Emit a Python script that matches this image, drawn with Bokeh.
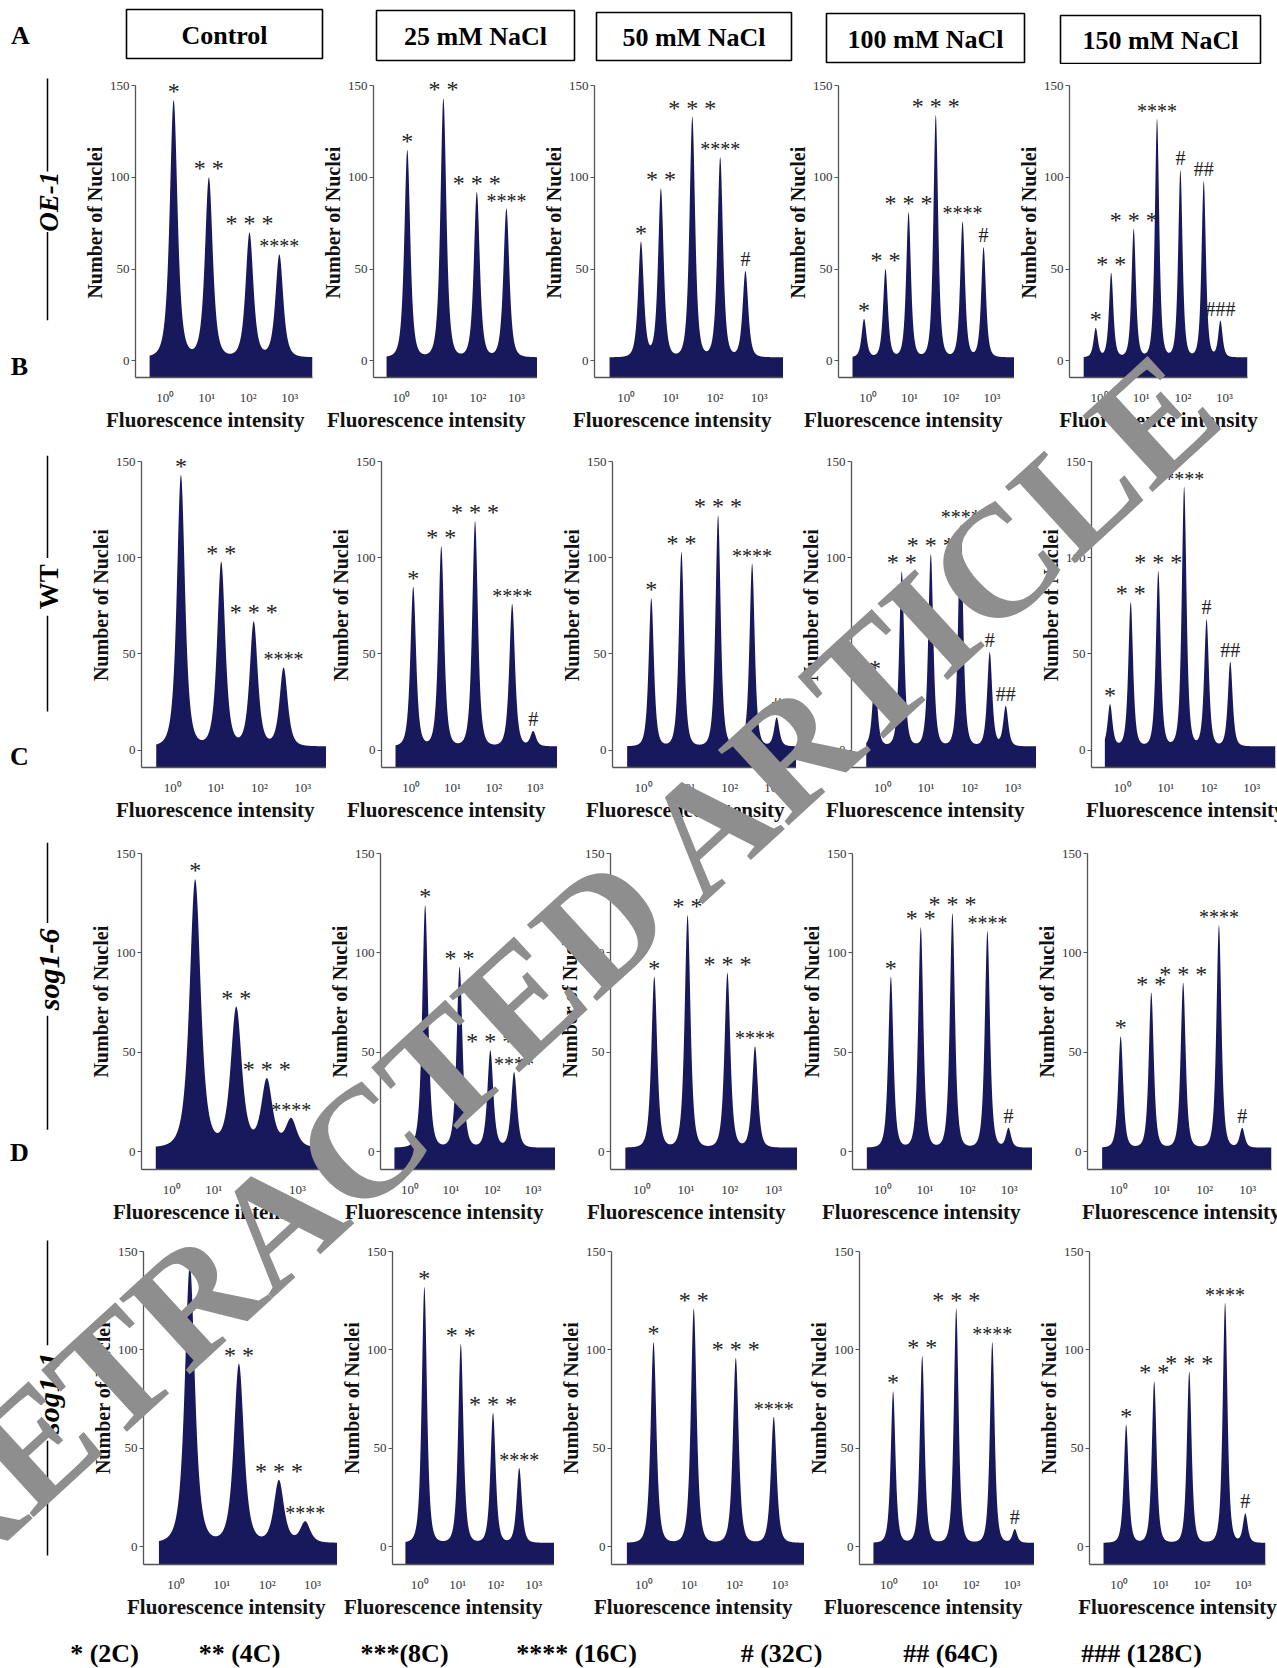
import math
import numpy as np
from bokeh.plotting import figure
from bokeh.layouts import column, row
from bokeh.models import (Range1d, FixedTicker, LabelSet, ColumnDataSource, Title, Div,
                          InlineStyleSheet)
from bokeh.core.properties import value
from bokeh.embed import file_html
from bokeh.resources import INLINE

# ---------------- data ----------------
CONDITIONS = ["Control", "25 mM NaCl", "50 mM NaCl", "100 mM NaCl", "150 mM NaCl"]
GENOTYPES = ["OE-1", "WT", "sog1-6", "sog1-1"]
PANEL_LETTERS = ["A", "B", "C", "D"]
X_TICKS = [0, 1, 2, 3]
X_TICK_LABELS = ["10\u2070", "10\u00b9", "10\u00b2", "10\u00b3"]
Y_TICKS = [0, 50, 100, 150]

# peak positions (log10 fluorescence), peak heights (number of nuclei), peak tags
OE1_PEAK_X = [[0.20, 1.05, 2.03, 2.75],
              [0.16, 1.10, 1.97, 2.74],
              [0.33, 0.78, 1.49, 2.12, 2.69],
              [-0.10, 0.42, 0.98, 1.64, 2.29, 2.80],
              [-0.09, 0.28, 0.82, 1.38, 1.94, 2.50, 2.90]]
OE1_PEAK_N = [[142, 100, 70, 58],
              [115, 143, 92, 83],
              [65, 94, 133, 111, 49],
              [23, 50, 81, 134, 76, 62],
              [18, 48, 72, 132, 104, 98, 22]]
OE1_PEAK_TAG = [["*", "**", "***", "****"],
                ["*", "**", "***", "****"],
                ["*", "**", "***", "****", "#"],
                ["*", "**", "***", "***", "****", "#"],
                ["*", "**", "***", "****", "#", "##", "###"]]

WT_PEAK_X = [[0.19, 1.12, 1.87, 2.56],
             [0.05, 0.73, 1.55, 2.45, 2.96],
             [0.18, 0.88, 1.73, 2.52, 3.09],
             [-0.18, 0.44, 1.11, 1.80, 2.47, 2.84],
             [-0.29, 0.19, 0.83, 1.43, 1.95, 2.50]]
WT_PEAK_N = [[143, 98, 67, 43],
             [85, 106, 119, 76, 10],
             [79, 103, 122, 97, 17],
             [38, 93, 102, 117, 51, 23],
             [24, 77, 93, 137, 68, 46]]
WT_PEAK_TAG = [["*", "**", "***", "****"],
               ["*", "**", "***", "****", "#"],
               ["*", "**", "***", "****", "#"],
               ["*", "**", "***", "****", "#", "##"],
               ["*", "**", "***", "****", "#", "##"]]

SOG16_PEAK_X = [[0.56, 1.54, 2.27, 2.85],
                [0.37, 1.21, 1.96, 2.54],
                [0.28, 1.04, 1.95, 2.58],
                [0.19, 0.90, 1.65, 2.48, 2.98],
                [0.05, 0.76, 1.50, 2.33, 2.87]]
SOG16_PEAK_N = [[137, 73, 37, 17],
                [124, 93, 51, 40],
                [88, 119, 90, 53],
                [88, 113, 120, 111, 12],
                [58, 80, 85, 114, 12]]
SOG16_PEAK_TAG = [["*", "**", "***", "****"],
                  ["*", "**", "***", "****"],
                  ["*", "**", "***", "****"],
                  ["*", "**", "***", "****", "#"],
                  ["*", "**", "***", "****", "#"]]

SOG11_PEAK_X = [[0.30, 1.38, 2.26, 2.84],
                [0.12, 1.08, 1.93, 2.62],
                [0.21, 1.10, 2.03, 2.87],
                [0.10, 0.81, 1.64, 2.52, 3.07],
                [0.17, 0.85, 1.70, 2.57, 3.06]]
SOG11_PEAK_N = [[143, 93, 34, 13],
                [132, 103, 68, 40],
                [104, 121, 96, 66],
                [79, 97, 121, 104, 9],
                [62, 84, 89, 124, 17]]
SOG11_PEAK_TAG = [["*", "**", "***", "****"],
                  ["*", "**", "***", "****"],
                  ["*", "**", "***", "****"],
                  ["*", "**", "***", "****", "#"],
                  ["*", "**", "***", "****", "#"]]

LEGEND_LABELS = ["* (2C)", "** (4C)", "***(8C)", "**** (16C)", "# (32C)", "## (64C)", "### (128C)"]

PEAK_X = [OE1_PEAK_X, WT_PEAK_X, SOG16_PEAK_X, SOG11_PEAK_X]
PEAK_N = [OE1_PEAK_N, WT_PEAK_N, SOG16_PEAK_N, SOG11_PEAK_N]
PEAK_TAG = [OE1_PEAK_TAG, WT_PEAK_TAG, SOG16_PEAK_TAG, SOG11_PEAK_TAG]

# ---------------- styles / layout ----------------
SERIF = "Liberation Serif"
NAVY = "#18185c"
AXIS_COL = "#555555"
X0, X1 = -0.72, 3.55
Y0, Y_AX, Y1 = -9, 150, 160
FLOOR = 2.0
PEAK_WIDTH = [[0.17, 0.14, 0.115, 0.105, 0.095],
              [0.17, 0.125, 0.11, 0.105, 0.10],
              [0.24, 0.13, 0.12, 0.11, 0.105],
              [0.20, 0.125, 0.115, 0.105, 0.105]]
XLAB_W = 206  # approx pixel width of the x axis label
XLAB_MARGIN = 12

PAGE_L, PAGE_R = 0, 1277
HEADER_TB = (0, 64)
ROW_TB = [(64, 432), (432, 826), (826, 1224), (1224, 1628)]
LEGEND_TB = (1628, 1668)
FRAME_TB = [(85, 377), (460, 766), (852, 1168), (1250, 1563)]   # y of 150 tick, x-axis line
AXIS_X = [[135, 373, 594, 832, 1064],
          [141, 377, 600, 834, 1071],
          [141, 380, 602, 838, 1069],
          [143, 384, 606, 844, 1073]]
RIGHT_X = [[312, 537, 785, 1009, 1242],
           [326, 557, 791, 1024, 1256],
           [320, 559, 797, 1026, 1256],
           [341, 549, 805, 1026, 1250]]
BL_MIN, BL_MAX = 50, 57

HEAD_L = [126, 376, 596, 826, 1060]
HEAD_R = [322, 574, 791, 1024, 1260]
HEAD_T = [9, 10, 12, 13, 15]
HEAD_B = [58, 60, 60, 62, 63]
LETTER_XY = [(20, 35), (19, 420), (19, 813), (19, 1204)]
ROWLAB_X = 47
ROWLAB_Y = [224, 607, 987, 1420]
ROWLAB_SEGS = [[(77, 188), (260, 365)], [(448, 572), (642, 758)],
               [(837, 932), (1042, 1177)], [(1235, 1362), (1478, 1617)]]
ROWLAB_STYLE = ["bold italic", "bold", "bold italic", "bold italic"]
ROWLAB_SIZE = ["27px", "27px", "30px", "30px"]
LEGEND_X = [104, 239, 404, 576, 781, 950, 1141]
LEGEND_Y = 1652

WM_TEXT = "RETRACTED ARTICLE"
WM_X, WM_Y, WM_ANG, WM_SIZE = 562, 960, 42.5, 158   # centre of the watermark on the page
WM_FIX = (46, 162)                                  # measured offset of the overlay box
WM_BOX_W, WM_BOX_H = 1760, 180


def page_fig(x0, x1, y0, y1):
    p = figure(width=x1 - x0, height=y1 - y0, x_range=Range1d(x0, x1), y_range=Range1d(y1, y0),
               x_axis_type=None, y_axis_type=None, output_backend="svg", toolbar_location=None,
               tools="", min_border_left=0, min_border_right=0, min_border_top=0, min_border_bottom=0,
               outline_line_color=None, background_fill_color="white", border_fill_color="white")
    p.grid.visible = False
    return p


def fmt_tag(t):
    if t.startswith("*") and len(t) < 4:
        return "\u00a0".join(t)
    return t


def profile(pos, hgt, w):
    pos = np.asarray(pos, float)
    hgt = np.asarray(hgt, float)
    g = lambda d: 1.0 / (1.0 + (d / w) ** 2) ** 2
    G = g(pos[:, None] - pos[None, :])
    amp = np.clip(np.linalg.solve(G, hgt - FLOOR), 0, None)
    start = min(-0.38, pos[0] - 0.12)
    x = np.linspace(start, X1, 1200)
    y = FLOOR + (amp[None, :] * g(x[:, None] - pos[None, :])).sum(axis=1)
    return x, y


def make_panel(r, c, fw, fh, bl, br, bt, bb, fig_left, fig_w):
    pos, hgt, tags = PEAK_X[r][c], PEAK_N[r][c], PEAK_TAG[r][c]
    ppu = fh / (Y_AX - Y0)
    extra = int(round((Y1 - Y_AX) * ppu))
    p = figure(frame_width=fw, frame_height=fh + extra, min_border_left=bl, min_border_right=br,
               min_border_top=bt - extra, min_border_bottom=bb,
               x_range=Range1d(X0, X1), y_range=Range1d(Y0, Y_AX + extra / ppu),
               output_backend="svg", toolbar_location=None, tools="",
               outline_line_color=None, background_fill_color="white", border_fill_color="white")
    p.grid.visible = False
    x, y = profile(pos, hgt, PEAK_WIDTH[r][c])
    p.varea(x=x, y1=Y0, y2=y, fill_color=NAVY)

    xa = p.xaxis[0]
    xa.ticker = FixedTicker(ticks=X_TICKS)
    xa.major_label_overrides = {t: l for t, l in zip(X_TICKS, X_TICK_LABELS)}
    xa.major_tick_out = 0
    xa.major_tick_in = 0
    xa.minor_tick_out = 0
    xa.minor_tick_in = 0
    xa.major_label_standoff = 12
    xa.major_label_text_font_size = "13px"

    ya = p.yaxis[0]
    ya.ticker = FixedTicker(ticks=Y_TICKS)
    ya.bounds = (Y0, Y_AX)
    ya.axis_label = "Number of Nuclei"
    ya.major_tick_out = 4
    ya.major_tick_in = 0
    ya.minor_tick_out = 0
    ya.minor_tick_in = 0
    ya.major_label_standoff = 2
    ya.axis_label_standoff = 1
    ya.major_label_text_font_size = "13px"
    ya.axis_label_text_font_size = "20px"

    for a in (xa, ya):
        a.axis_line_color = AXIS_COL
        a.axis_line_width = 1.3
        a.major_tick_line_color = AXIS_COL
        a.major_label_text_font = SERIF
        a.major_label_text_color = "#333333"
        a.axis_label_text_font = SERIF
        a.axis_label_text_font_style = "bold"
        a.axis_label_text_color = "#111111"

    # x axis label as a title below the axis, kept inside the figure
    fl = fig_left + bl
    fr = fl + fw
    fig_r = fig_left + fig_w
    centre = fl + fw / 2
    if centre + XLAB_W / 2 > fig_r - XLAB_MARGIN:
        align, off = "right", fr - (fig_r - XLAB_MARGIN)
    elif centre - XLAB_W / 2 < fig_left + 3:
        align, off = "left", (fig_left + 3) - fl
    else:
        align, off = "center", 0
    p.add_layout(Title(text="Fluorescence intensity", align=align, offset=off,
                       vertical_align="top", standoff=0, text_font=SERIF, text_font_style="bold",
                       text_font_size="21px", text_color="#111111"), "below")

    src = ColumnDataSource(dict(
        x=pos, y=hgt, text=[fmt_tag(t) for t in tags],
        size=["24px" if (t[0] == "*" and len(t) < 4) else "20px" for t in tags],
        yoff=[1 if t[0] == "*" else 5 for t in tags]))
    p.add_layout(LabelSet(x="x", y="y", text="text", source=src, text_align="center",
                          text_baseline="alphabetic", text_font=value(SERIF),
                          text_font_size="size", y_offset="yoff", text_color="#222222"))
    return p


# ---------------- header ----------------
header = page_fig(PAGE_L, PAGE_R, HEADER_TB[0], HEADER_TB[1])
header.quad(left=HEAD_L, right=HEAD_R, top=HEAD_T, bottom=HEAD_B, fill_color=None,
            line_color="black", line_width=1.6)
header.text(x=[(a + b) / 2 for a, b in zip(HEAD_L, HEAD_R)],
            y=[(a + b) / 2 + 1 for a, b in zip(HEAD_T, HEAD_B)], text=CONDITIONS,
            text_align="center", text_baseline="middle", text_font=value(SERIF),
            text_font_style="bold", text_font_size="26px", text_color="black")
header.text(x=[LETTER_XY[0][0]], y=[LETTER_XY[0][1]], text=[PANEL_LETTERS[0]],
            text_align="center", text_baseline="middle", text_font=value(SERIF),
            text_font_style="bold", text_font_size="26px", text_color="black")

rows = [header]
for r in range(4):
    ax = list(AXIS_X[r])
    rt = list(RIGHT_X[r])
    bl = [BL_MAX] * 5
    for i in range(1, 5):
        gap = ax[i] - rt[i - 1]
        if gap < BL_MIN:
            d = BL_MIN - gap
            ax[i] += d // 2
            rt[i - 1] -= d - d // 2
            gap = BL_MIN
        bl[i] = min(gap, BL_MAX)
    L = [ax[i] - bl[i] for i in range(5)]
    widths = [L[i + 1] - L[i] for i in range(4)] + [PAGE_R - L[4]]
    fw = [rt[i] - ax[i] for i in range(5)]
    br = [widths[i] - bl[i] - fw[i] for i in range(5)]
    top, bot = ROW_TB[r]
    ft, fb = FRAME_TB[r]

    lab = page_fig(PAGE_L, L[0], top, bot)
    for (s0, s1) in ROWLAB_SEGS[r]:
        lab.segment(x0=[ROWLAB_X], y0=[s0], x1=[ROWLAB_X], y1=[s1], line_color="black", line_width=1.5)
    lab.text(x=[ROWLAB_X + 1], y=[ROWLAB_Y[r]], text=[GENOTYPES[r]], angle=math.pi / 2,
             text_align="center", text_baseline="middle", text_font=value(SERIF),
             text_font_style=ROWLAB_STYLE[r], text_font_size=ROWLAB_SIZE[r], text_color="black")
    if r < 3:
        lx, ly = LETTER_XY[r + 1]
        lab.text(x=[lx], y=[ly], text=[PANEL_LETTERS[r + 1]], text_align="center",
                 text_baseline="middle", text_font=value(SERIF), text_font_style="bold",
                 text_font_size="26px", text_color="black")

    panels = [lab]
    for c in range(5):
        panels.append(make_panel(r, c, fw[c], fb - ft, bl[c], br[c], ft - top, bot - fb,
                                 L[c], widths[c]))
    rows.append(row(*panels))

legend = page_fig(PAGE_L, PAGE_R, LEGEND_TB[0], LEGEND_TB[1])
legend.text(x=LEGEND_X, y=[LEGEND_Y] * len(LEGEND_X), text=LEGEND_LABELS, text_align="center",
            text_baseline="middle", text_font=value(SERIF), text_font_style="bold",
            text_font_size="26px", text_color="black")
rows.append(legend)

# watermark overlay (absolutely positioned over the whole layout)
wm_left = WM_X + WM_FIX[0] - WM_BOX_W / 2
wm_top = WM_Y + WM_FIX[1] - WM_BOX_H / 2
wm_css = (":host { position: absolute !important; left: %dpx !important; top: %dpx !important; "
          "width: %dpx !important; height: %dpx !important; transform: rotate(-%.1fdeg); "
          "transform-origin: 50%% 50%%; pointer-events: none; z-index: 50; overflow: visible !important; }"
          % (wm_left, wm_top, WM_BOX_W, WM_BOX_H, WM_ANG))
wm_html = ('<div style="width:%dpx;height:%dpx;line-height:%dpx;text-align:center;white-space:nowrap;'
           'font-family:\'Liberation Serif\';font-weight:bold;font-size:%dpx;color:#8e8e8e;">%s</div>'
           % (WM_BOX_W, WM_BOX_H, WM_BOX_H, WM_SIZE, WM_TEXT))
watermark = Div(text=wm_html, width=WM_BOX_W, height=WM_BOX_H,
                stylesheets=[InlineStyleSheet(css=wm_css)])
rows.append(watermark)

page = column(*rows)
open("out.html", "w").write(file_html(page, INLINE))
